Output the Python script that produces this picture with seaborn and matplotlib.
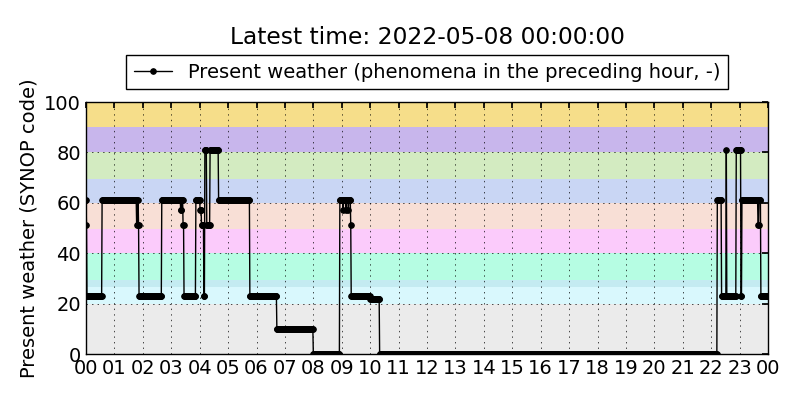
import numpy as np
import pandas as pd
import matplotlib
matplotlib.use("Agg")
import matplotlib.pyplot as plt
import matplotlib.dates as mdates
import seaborn as sns

# --- data (present weather code, 1-min steps) ---
# each run: minute of day where a value starts, and the value held from then on
run_start_min = [0, 1, 2, 34, 107, 108, 109, 110, 111, 112,
                 160, 200, 202, 205, 207,
                 232, 241, 244, 249, 251, 255, 262, 280,
                 346, 403, 480,
                 536, 543, 544, 549, 550, 554, 555, 559, 560,
                 600, 620,
                 1333, 1342, 1352, 1353, 1373, 1383, 1385, 1419, 1421, 1425]
run_value = [61, 51, 23, 61, 51, 61, 51, 61, 51, 23,
             61, 57, 61, 51, 23,
             61, 57, 51, 23, 81, 51, 81, 61,
             23, 10, 0,
             61, 57, 61, 57, 61, 57, 61, 51, 23,
             22, 0,
             61, 23, 81, 23, 81, 23, 61, 51, 61, 23]

# background bands: (low, high, colour)
band_low = [0, 20, 26.7, 29.4, 40, 49.6, 60, 69.5, 80, 90]
band_high = [20, 26.7, 29.4, 40, 49.6, 60, 69.5, 80, 90, 100]
band_colors = ["#ebebeb", "#d9f8fd", "#c4ebf1", "#b6fde3", "#fbcbfb",
               "#f8dfd6", "#c9d6f4", "#d3ebc1", "#c8b6ec", "#f6de8a"]

start = pd.Timestamp("2022-05-07 00:00:00")
end = pd.Timestamp("2022-05-08 00:00:00")

minutes = np.arange(0, 1441)
idx = np.searchsorted(run_start_min, minutes, side="right") - 1
df = pd.DataFrame({
    "time": start + pd.to_timedelta(minutes, unit="m"),
    "ww": np.array(run_value)[idx],
})

# --- style: old matplotlib look ---
sns.set_theme(style="white")
plt.rcParams.update({
    "font.family": ["DejaVu Sans"],
    "text.color": "black",
    "axes.labelcolor": "black",
    "xtick.direction": "in",
    "ytick.direction": "in",
    "xtick.top": True,
    "ytick.right": True,
    "xtick.major.size": 4,
    "ytick.major.size": 4,
    "xtick.color": "black",
    "ytick.color": "black",
    "axes.edgecolor": "black",
    "axes.linewidth": 1.0,
})

fig = plt.figure(figsize=(8, 4), dpi=100)
ax = fig.add_axes([0.1075, 0.115, 0.8525, 0.63])

for lo, hi, c in zip(band_low, band_high, band_colors):
    ax.axhspan(lo, hi, color=c, lw=0, zorder=0.5)

sns.lineplot(data=df, x="time", y="ww", ax=ax, color="black", lw=1,
             marker="o", markersize=4, markeredgecolor="black",
             estimator=None, label="Present weather (phenomena in the preceding hour, -)")

ax.set_xlim(start, end)
ax.set_ylim(0, 100)
ax.set_yticks([0, 20, 40, 60, 80, 100])
ax.xaxis.set_major_locator(mdates.HourLocator())
ax.xaxis.set_major_formatter(mdates.DateFormatter("%H"))
ax.tick_params(labelsize=14, colors="black")
ax.set_xlabel("")
ax.set_ylabel("Present weather (SYNOP code)", fontsize=14)

ax.set_axisbelow("line")
ax.grid(True, linestyle=(0, (2, 6)), color="black", lw=0.5)

leg = ax.legend(loc="upper center", bbox_to_anchor=(0.5, 1.187), borderaxespad=0,
                fontsize=14, numpoints=1, fancybox=False, framealpha=1,
                edgecolor="black")
leg.get_frame().set_linewidth(1.0)
for t in leg.get_texts():
    t.set_color("black")

ax.set_title("Latest time: 2022-05-08 00:00:00", fontsize=16.8, color="black", pad=42)

fig.savefig("out.png", dpi=100)
